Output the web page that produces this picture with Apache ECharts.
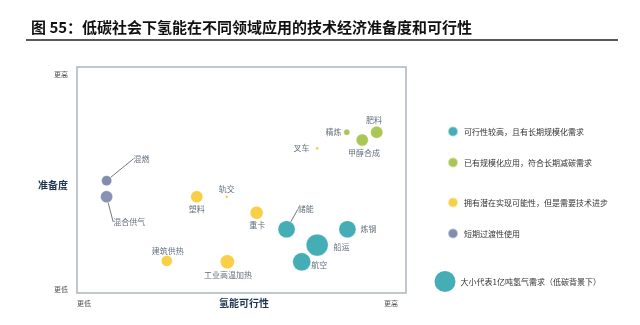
<!DOCTYPE html>
<html><head><meta charset="utf-8">
<script src="https://cdn.jsdelivr.net/npm/echarts@6/dist/echarts.min.js"></script>
<style>html,body{margin:0;padding:0;background:#fff}#c{width:640px;height:325px}</style>
</head><body><div id="c"></div>
<script>
// ---- data ----
const names    = ['混燃','混合供气','塑料','轨交','建筑供热','工业高温加热','重卡','储能','船运','航空','炼钢','叉车','精炼','甲醇合成','肥料'];
const feasibility = [9.0, 9.0, 36.4, 45.5, 27.3, 45.7, 54.6, 63.7, 73.0, 68.3, 82.2, 73.0, 82.0, 86.7, 91.1]; // 氢能可行性 (0=更低, 100=更高)
const readiness   = [49.7, 42.6, 42.6, 42.6, 14.2, 13.8, 35.5, 28.2, 21.2, 13.8, 28.2, 64.0, 71.1, 67.7, 71.1]; // 准备度
const demand      = [0.23, 0.33, 0.33, 0.02, 0.27, 0.45, 0.38, 0.66, 1.08, 0.74, 0.66, 0.02, 0.08, 0.33, 0.33]; // 亿吨氢气需求
const group       = [3, 3, 2, 2, 2, 2, 2, 0, 0, 0, 0, 2, 1, 1, 1];
const groupNames  = ['可行性较高，且有长期规模化需求','已有规模化应用，符合长期减碳需求','拥有潜在实现可能性，但是需要技术进步','短期过渡性使用'];
const sizeLegend  = '大小代表1亿吨氢气需求（低碳背景下）';
const xTicks = ['更低','更高'];
const yTicks = ['更低','更高'];
const title = '图 55：低碳社会下氢能在不同领域应用的技术经济准备度和可行性';

// ---- styles ----
const colors = ['#1598a4','#95b92c','#f6c419','#636f98'];
const labelOffset = {
  '混燃':[35,-22],'混合供气':[22.6,25.3],'塑料':[0,12.6],'轨交':[0,-7.7],'建筑供热':[1,-10.3],
  '工业高温加热':[0.7,12.8],'重卡':[0.6,12.3],'储能':[19.3,-20],'船运':[24.4,1.7],'航空':[17.6,3.3],
  '炼钢':[21,0],'叉车':[-15.6,0],'精炼':[-13.4,0],'甲醇合成':[1.7,12.7],'肥料':[-2.7,-12.3]
};
const leader = {'混燃':1,'混合供气':1,'储能':1};
const hatched = {'混合供气':1};
const sizeScale = 21; // diameter px for 1亿吨

const series = groupNames.map((gn, g) => {
  const data = [];
  names.forEach((n, i) => {
    if (group[i] !== g) return;
    const item = { name: n, value: [feasibility[i], readiness[i], demand[i]] };
    if (leader[n]) item.labelLine = { show: true, lineStyle: { color: '#555', width: 0.8 } };
    if (hatched[n]) item.itemStyle = { color: '#6a77a0', decal: { symbol: 'rect', dashArrayX: [1, 0], dashArrayY: [1.6, 2.2], rotation: -Math.PI / 4, color: 'rgba(255,255,255,0.85)', symbolSize: 1 } };
    data.push(item);
  });
  return {
    name: gn, type: 'scatter', data,
    symbolSize: v => Math.max(3, sizeScale * Math.sqrt(v[2])),
    itemStyle: { color: colors[g], borderColor: 'rgba(255,255,255,0.6)', borderWidth: 0.6 },
    label: { show: true, position: 'inside', formatter: p => p.name, fontSize: 8, color: '#3b4a5e', fontFamily: 'Noto Sans CJK SC' },
    labelLine: { show: false },
    labelLayout: p => { const o = labelOffset[data[p.dataIndex].name]; return { dx: o[0], dy: o[1] }; },
    emphasis: { disabled: true }
  };
});
series.push({ name: sizeLegend, type: 'scatter', data: [], itemStyle: { color: colors[0] } });

const legendTops = [125.5, 156.5, 196.5, 227.5];
const legends = groupNames.map((gn, g) => ({
  data: [gn], left: 447, top: legendTops[g], orient: 'vertical', icon: 'circle',
  itemWidth: 10, itemHeight: 10, itemGap: 0, selectedMode: false, padding: 0,
  textStyle: { fontSize: 8, color: '#333', fontFamily: 'Noto Sans CJK SC', padding: [0,0,0,1] }
}));
legends.push({ data: [sizeLegend], left: 434.5, top: 271, icon: 'circle', itemWidth: 21, itemHeight: 21,
  selectedMode: false, padding: 0, textStyle: { fontSize: 8, color: '#333', fontFamily: 'Noto Sans CJK SC' } });

const chart = echarts.init(document.getElementById('c'), null, { renderer: 'canvas' });
chart.setOption({
  animation: false,
  backgroundColor: '#fff',
  textStyle: { fontFamily: 'Noto Sans CJK SC' },
  title: { text: title, left: 26, top: 15, textStyle: { fontSize: 15, fontWeight: 'bold', color: '#111', fontFamily: 'Noto Sans CJK SC' } },
  graphic: [{ type: 'line', shape: { x1: 26, y1: 40, x2: 618, y2: 40 }, style: { stroke: '#222', lineWidth: 1.5 } }],
  grid: { left: 77, top: 67, width: 329, height: 226, show: true, borderColor: '#aab5c0', borderWidth: 1.5, backgroundColor: 'transparent' },
  xAxis: {
    type: 'value', min: 0, max: 100, interval: 100,
    name: '氢能可行性', nameLocation: 'middle', nameGap: 5, nameMoveOverlap: false,
    nameTextStyle: { fontSize: 10, fontWeight: 'bold', color: '#1f3552', padding: [0, 0, 0, 5] },
    axisLine: { show: false }, axisTick: { show: false }, splitLine: { show: false },
    axisLabel: { formatter: v => v === 0 ? xTicks[0] : xTicks[1], fontSize: 7, color: '#555', margin: 7,
      alignMinLabel: 'left', alignMaxLabel: 'right', padding: [0, 8, 0, 0] }
  },
  yAxis: {
    type: 'value', min: 0, max: 100, interval: 100,
    name: '准备度', nameLocation: 'middle', nameGap: 9, nameRotate: 0, nameMoveOverlap: false,
    nameTextStyle: { fontSize: 10, fontWeight: 'bold', color: '#1f3552', verticalAlign: 'top' },
    axisLine: { show: false }, axisTick: { show: false }, splitLine: { show: false },
    axisLabel: { formatter: v => v === 0 ? yTicks[0] : yTicks[1], fontSize: 7, color: '#555', margin: 9,
      verticalAlignMinLabel: 'bottom', verticalAlignMaxLabel: 'top', padding: [4, 0, 0, 0] }
  },
  legend: legends,
  series
});
</script></body></html>
